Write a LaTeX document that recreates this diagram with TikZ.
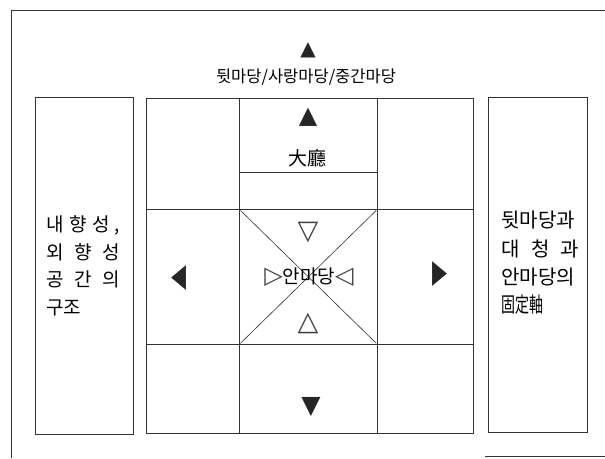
\documentclass[tikz,border=0pt]{standalone}
\usepackage{fontspec}
\usepackage{graphicx}
\newfontfamily\kr{Noto Sans CJK KR}
\newfontfamily\symf{DejaVu Sans}
\begin{document}
\begin{tikzpicture}[x=1pt,y=-1pt,
  ln/.style={draw=black!80,line width=0.7pt},
  cellbox/.style={ln,minimum width=#1,inner sep=0pt,anchor=north west},
  ktxt/.style={font=\kr\fontsize{#1}{#1}\selectfont,inner sep=0pt},
  stxt/.style={font=\symf\fontsize{#1}{#1}\selectfont,inner sep=0pt,text=black!85}]
\useasboundingbox (0,0) rectangle (605,458);
\fill[white] (0,0) rectangle (605,458);
% outer frame
\coordinate (fbl) at (11,458);
\coordinate (ftl) at (11,10);
\coordinate (ftr) at (605,10);
\coordinate (fb1) at (485,456);
\coordinate (fb2) at (605,456);
\draw[ln] (fbl) -- (ftl) -- (ftr);
\draw[ln] (fb1) -- (fb2);
% side boxes
\node[cellbox=98pt,minimum height=337pt] (lbox) at (35,97) {};
\node[cellbox=99pt,minimum height=335pt] (rbox) at (488,97) {};
% grid
\node[cellbox=327pt,minimum height=335pt] (grid) at (146,98) {};
\node[cellbox=138pt,minimum height=135pt] (ctr) at (239,209) {};
\node[cellbox=138pt,minimum height=74pt] (hall) at (239,98) {};
\coordinate (c1t) at (239,98);
\coordinate (c1b) at (239,433);
\coordinate (c2t) at (377,98);
\coordinate (c2b) at (377,433);
\coordinate (r1l) at (146,209);
\coordinate (r1r) at (473,209);
\coordinate (r2l) at (146,344);
\coordinate (r2r) at (473,344);
\draw[ln] (c1t) -- (c1b);
\draw[ln] (c2t) -- (c2b);
\draw[ln] (r1l) -- (r1r);
\draw[ln] (r2l) -- (r2r);
\draw[ln,line width=0.6pt,shorten >=2pt,shorten <=2pt] (ctr.north west) -- (ctr.south east);
\draw[ln,line width=0.6pt,shorten >=2pt,shorten <=2pt] (ctr.north east) -- (ctr.south west);
% top labels
\node[stxt=20] (topTri) at (308,50) {▲};
\node[ktxt=16.5] (topText) at (306,77) {뒷마당/사랑마당/중간마당};
% inner markers
\node[stxt=24] (hallTri) at (308,117) {▲};
\node[ktxt=19] (hallText) at (307,158) {大廳};
\node[stxt=27,text=black!75] (dnOpen) at (308,232) {▽};
\node[stxt=27,text=black!75] (upOpen) at (308,323) {△};
\node[inner sep=0pt] (court) at (309,277) {{\symf\fontsize{24}{24}\selectfont\color{black!75}▷}{\kr\fontsize{19}{19}\selectfont 안마당}{\symf\fontsize{24}{24}\selectfont\color{black!75}◁}};
\node[stxt=26] (leftTri) at (179,278) {\scalebox{0.75}[1.25]{◀}};
\node[stxt=26] (rightTri) at (440,274) {\scalebox{0.75}[1.25]{▶}};
\node[stxt=25] (botTri) at (311,407) {▼};
% side texts
\node[inner sep=0pt,font=\kr\fontsize{19}{27.5}\selectfont,align=left,anchor=west] (ltext) at (46,266)
 {\makebox[74pt][s]{내\hfill 향\hfill 성\hfill ,}\\
  \makebox[74pt][s]{외\hfill 향\hfill 성}\\
  \makebox[74pt][s]{공\hfill 간\hfill 의}\\
  구조};
\node[inner sep=0pt,font=\kr\fontsize{20}{28.3}\selectfont,align=left,anchor=west] (rtext) at (501,263)
 {뒷마당과\\
  \makebox[78pt][s]{대\hfill 청\hfill 과}\\
  안마당의\\
  \scalebox{0.7}[1.05]{固定軸}};
\end{tikzpicture}
\end{document}
